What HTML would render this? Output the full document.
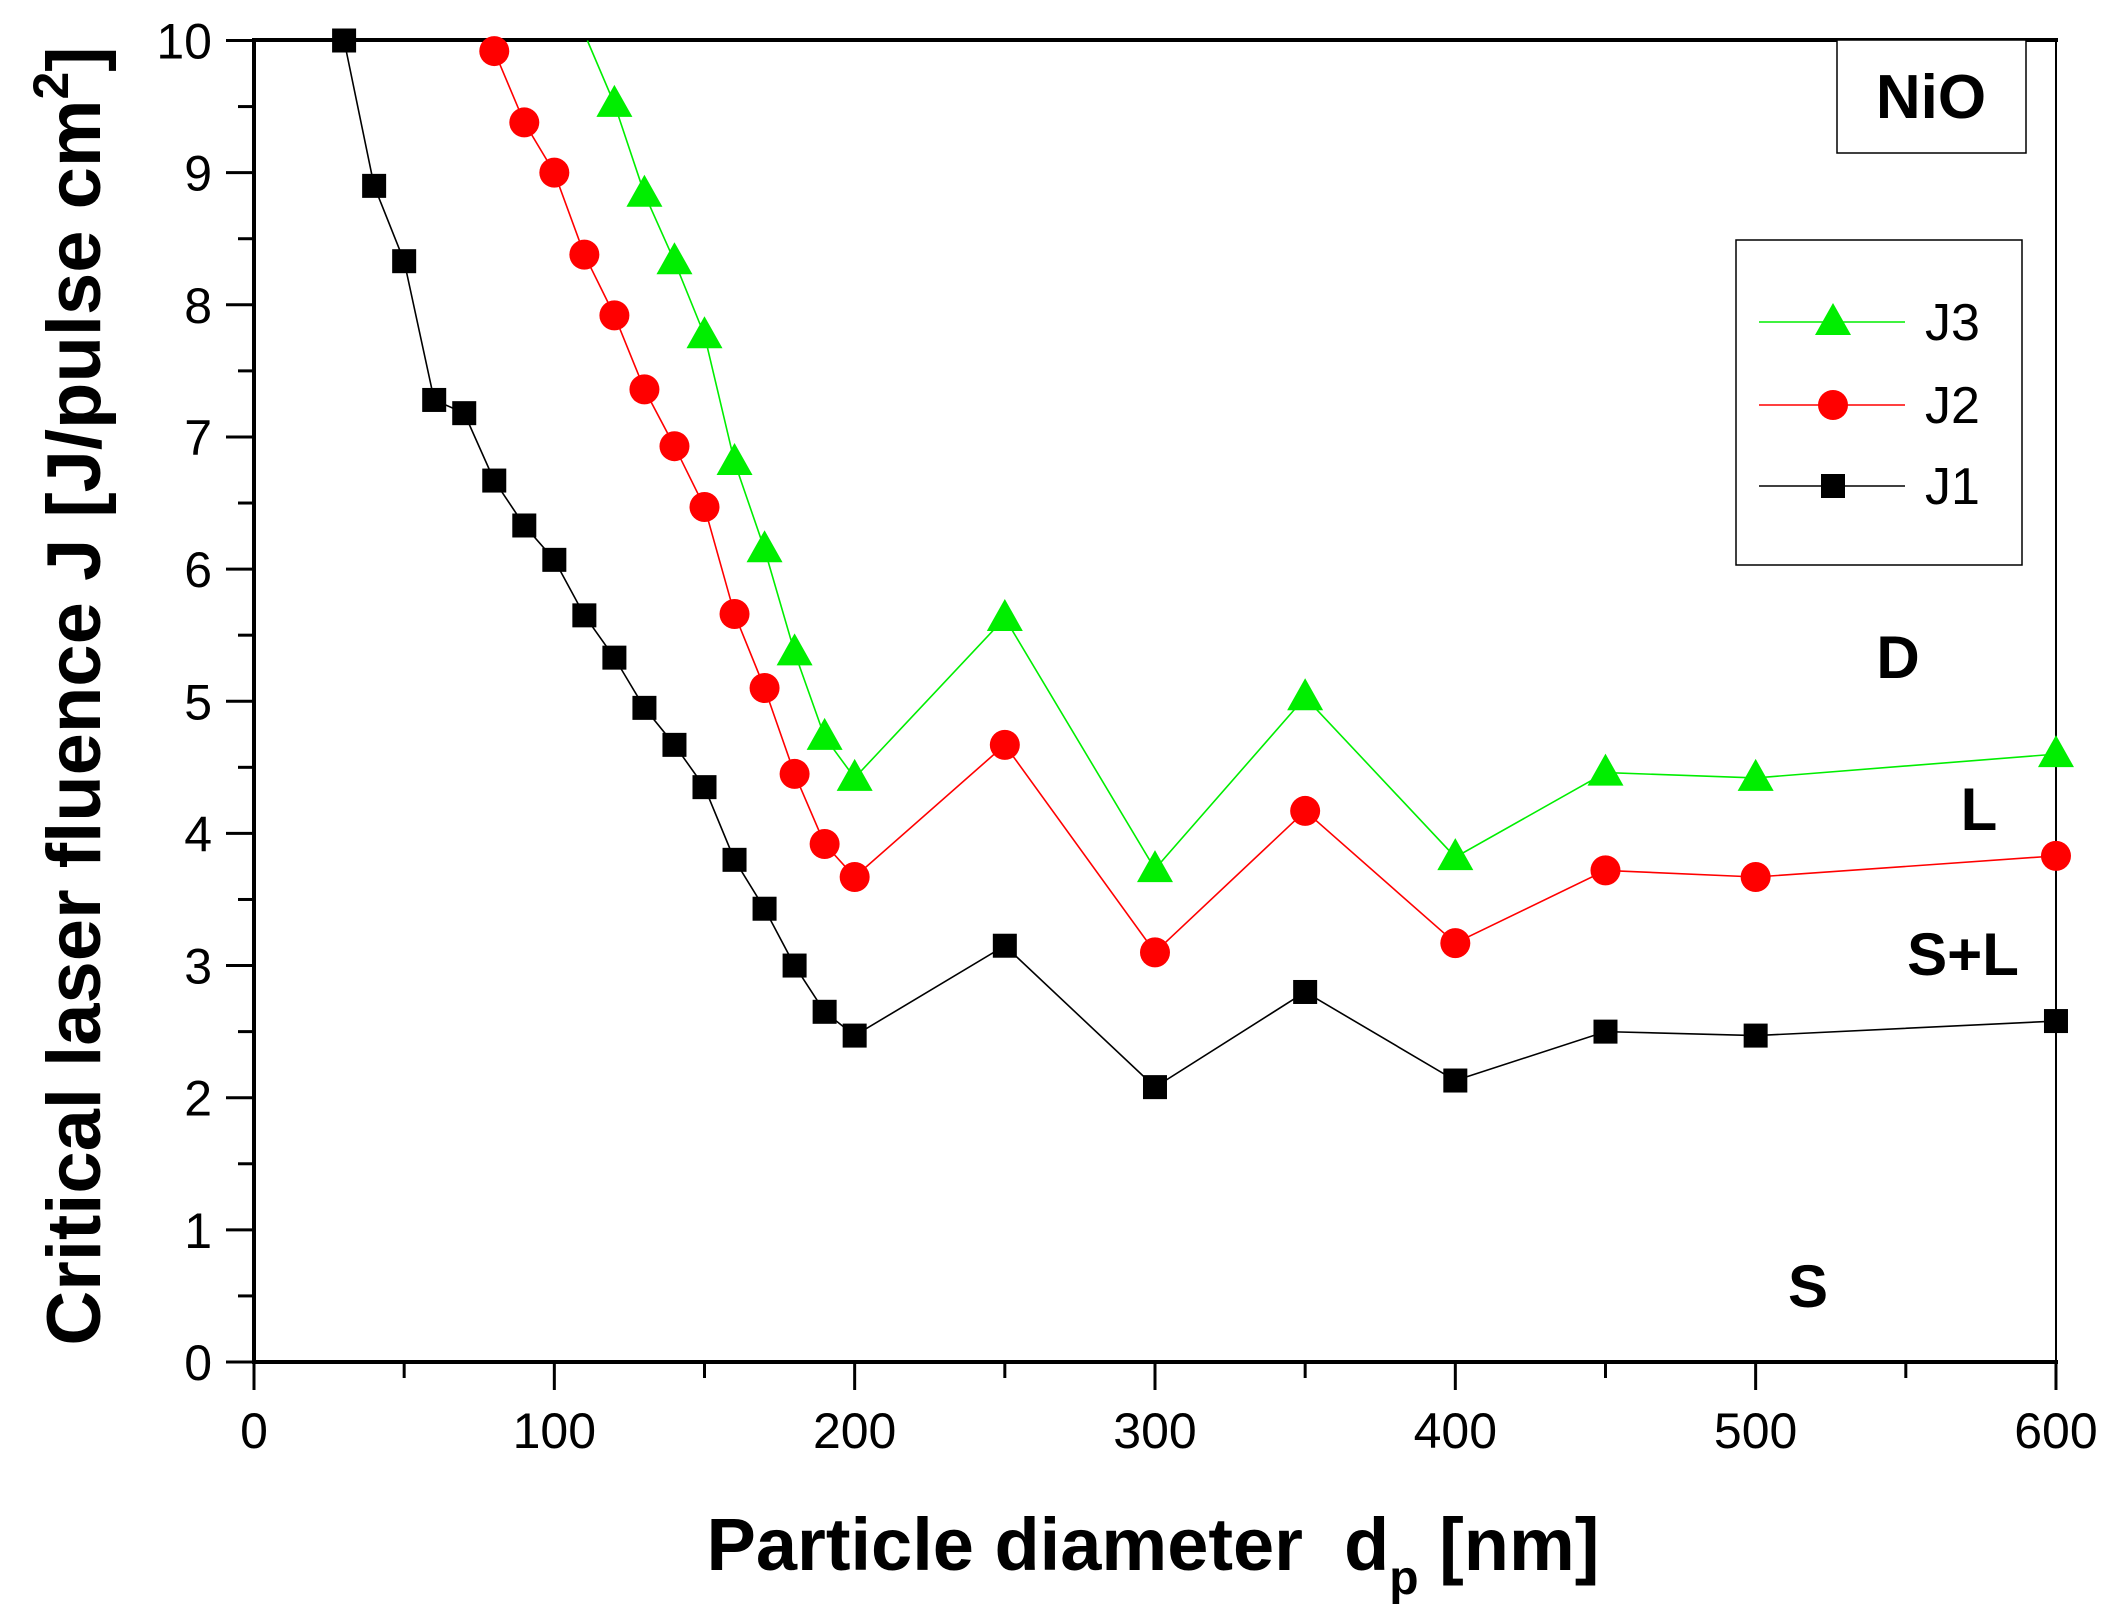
<!DOCTYPE html>
<html><head><meta charset="utf-8"><style>
html,body{margin:0;padding:0;background:#fff;}
svg{display:block;font-family:"Liberation Sans",Arial,sans-serif;}
</style></head><body>
<svg id="s" width="2118" height="1623" viewBox="0 0 2118 1623" xmlns="http://www.w3.org/2000/svg">
<rect width="2118" height="1623" fill="#fff"/>
<g id="plot"></g>
<rect x="1837" y="40" width="189" height="113" fill="#fff" stroke="#000" stroke-width="1.5"/>
<text x="1931" y="118" font-size="62" font-weight="bold" text-anchor="middle">NiO</text>
<rect x="1736" y="240" width="286" height="325" fill="#fff" stroke="#000" stroke-width="1.5"/>
<text x="1898" y="678" font-size="60" font-weight="bold" text-anchor="middle">D</text>
<text x="1979" y="830" font-size="60" font-weight="bold" text-anchor="middle">L</text>
<text x="1963" y="975" font-size="60" font-weight="bold" text-anchor="middle">S+L</text>
<text x="1808" y="1307" font-size="60" font-weight="bold" text-anchor="middle">S</text>
<text x="1153" y="1570" font-size="74" font-weight="bold" text-anchor="middle" xml:space="preserve">Particle diameter  d<tspan font-size="48" dy="24">p</tspan><tspan dy="-24"> [nm]</tspan></text>
<text transform="translate(100,696) rotate(-90)" font-size="76" font-weight="bold" text-anchor="middle">Critical laser fluence J [J/pulse cm<tspan font-size="50" dy="-32">2</tspan><tspan dy="32">]</tspan></text>
</svg>
<script>
var NS="http://www.w3.org/2000/svg",g=document.getElementById('plot'),L=document.getElementById('s');
function X(v){return 254+v*3.0033}function Y(v){return 1362-v*132.15}
function el(n,a,p){var e=document.createElementNS(NS,n);for(var k in a)e.setAttribute(k,a[k]);(p||g).appendChild(e);return e}
el('line',{x1:254,y1:1362,x2:2058,y2:1362,stroke:'#000','stroke-width':4});
el('line',{x1:254,y1:40,x2:254,y2:1364,stroke:'#000','stroke-width':4});
el('line',{x1:252,y1:40,x2:2058,y2:40,stroke:'#000','stroke-width':4});
el('line',{x1:2056,y1:40,x2:2056,y2:1364,stroke:'#000','stroke-width':2});
for(var v=0;v<=600;v+=50){var x=X(v),maj=v%100==0;el('line',{x1:x,y1:1362,x2:x,y2:maj?1390:1378,stroke:'#000','stroke-width':3});
 if(maj){var t=el('text',{x:x,y:1448,'font-size':50,'text-anchor':'middle'});t.textContent=v;}}
for(var i=0;i<=20;i++){var v=i/2,y=Y(v),maj=i%2==0;el('line',{x1:254,y1:y,x2:maj?226:238,y2:y,stroke:'#000','stroke-width':3});
 if(maj){var t=el('text',{x:212,y:y+18,'font-size':50,'text-anchor':'end'});t.textContent=v;}}
var J1=[[30,10],[40,8.9],[50,8.33],[60,7.28],[70,7.18],[80,6.67],[90,6.33],[100,6.07],[110,5.65],[120,5.33],[130,4.95],[140,4.67],[150,4.35],[160,3.8],[170,3.43],[180,3.0],[190,2.65],[200,2.47],[250,3.15],[300,2.08],[350,2.8],[400,2.13],[450,2.5],[500,2.47],[600,2.58]];
var J2=[[80,9.92],[90,9.38],[100,9.0],[110,8.38],[120,7.92],[130,7.36],[140,6.93],[150,6.47],[160,5.66],[170,5.1],[180,4.45],[190,3.92],[200,3.67],[250,4.67],[300,3.1],[350,4.17],[400,3.17],[450,3.72],[500,3.67],[600,3.83]];
var J3=[[120,9.52],[130,8.84],[140,8.33],[150,7.77],[160,6.81],[170,6.15],[180,5.37],[190,4.73],[200,4.42],[250,5.63],[300,3.73],[350,5.03],[400,3.82],[450,4.46],[500,4.42],[600,4.6]];
function mk(t,x,y,c){if(t=='s')el('rect',{x:x-12,y:y-12,width:24,height:24,fill:c});
 else if(t=='c')el('circle',{cx:x,cy:y,r:15,fill:c});
 else el('polygon',{points:(x)+','+(y-19)+' '+(x-18)+','+(y+13)+' '+(x+18)+','+(y+13),fill:c});}
function ser(d,c,t,pre){var p=(pre?[pre]:[]).concat(d).map(function(q){return X(q[0])+','+Y(q[1])}).join(' ');
 el('polyline',{points:p,fill:'none',stroke:c,'stroke-width':1.6});d.forEach(function(q){mk(t,X(q[0]),Y(q[1]),c)});}
ser(J1,'#000','s');ser(J2,'#f00','c');ser(J3,'#0e0','t',[111,10]);
var leg=[['J3','#0e0','t',322],['J2','#f00','c',405],['J1','#000','s',486]];
leg.forEach(function(l){el('line',{x1:1759,y1:l[3],x2:1905,y2:l[3],stroke:l[1],'stroke-width':1.6},L);
 var sv=g;g=L;mk(l[2],1833,l[3],l[1]);g=sv;var t=el('text',{x:1925,y:l[3]+18,'font-size':52},L);t.textContent=l[0];});
</script>
</body></html>
